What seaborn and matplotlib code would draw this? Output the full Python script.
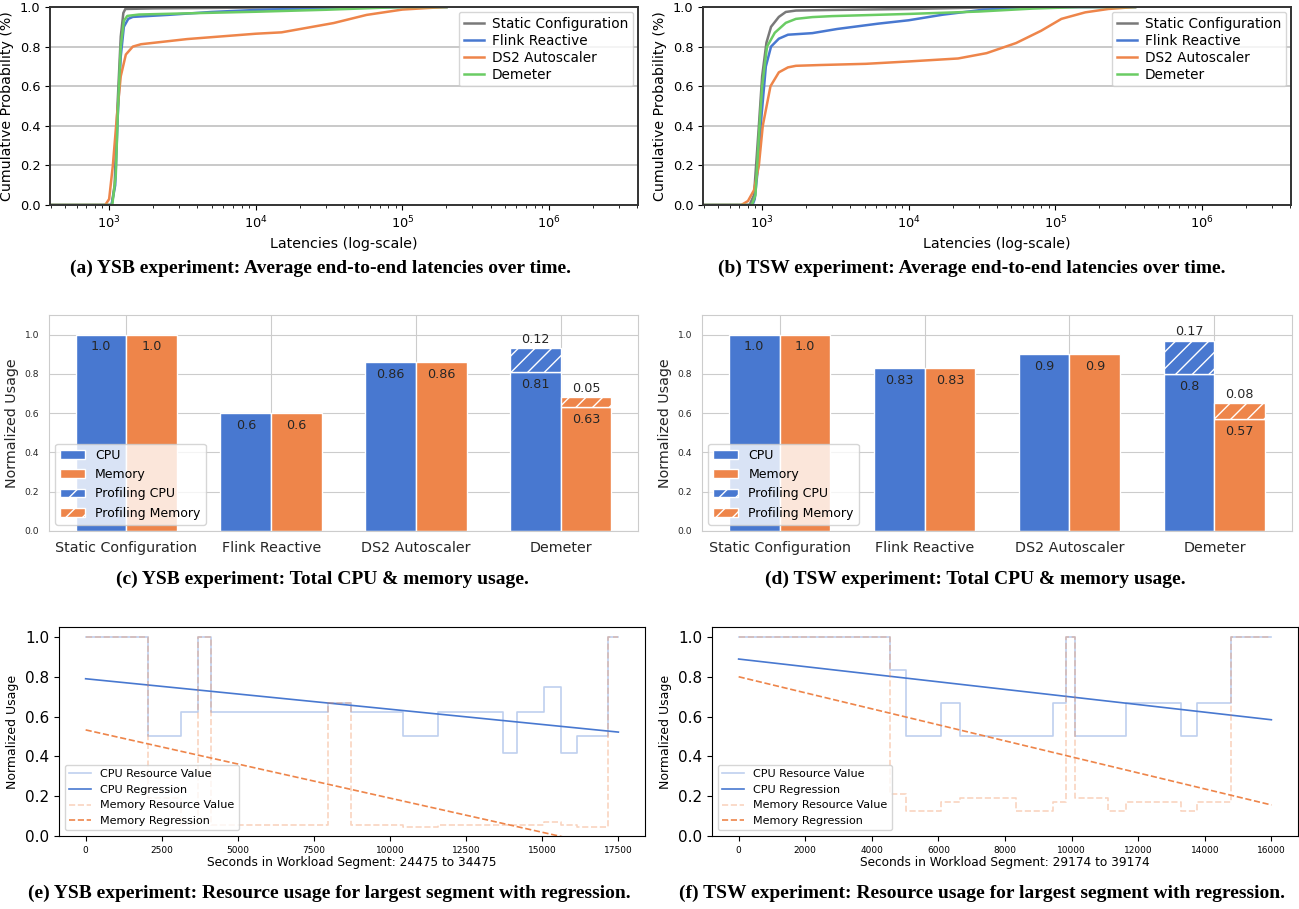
import numpy as np
import matplotlib
matplotlib.use("Agg")
import matplotlib.pyplot as plt
import seaborn as sns

# latency CDFs

ysb_static_lat = [395, 1040, 1090, 1140, 1200, 1250, 1290, 2000, 10000, 50000, 200000]
ysb_static_cdf = [0, 0, 0.1, 0.5, 0.85, 0.97, 0.99, 0.993, 0.997, 1.0, 1.0]
ysb_flink_lat = [395, 1040, 1100, 1145, 1200, 1260, 1350, 1450, 2500, 5000, 10000, 30000, 100000, 200000]
ysb_flink_cdf = [0, 0, 0.1, 0.45, 0.75, 0.9, 0.94, 0.95, 0.96, 0.975, 0.985, 0.995, 1.0, 1.0]
ysb_ds2_lat = [395, 940, 1000, 1060, 1130, 1200, 1300, 1450, 1650, 3400, 10000, 15000, 34000, 57000, 100000, 150000, 200000]
ysb_ds2_cdf = [0, 0, 0.03, 0.2, 0.45, 0.65, 0.76, 0.8, 0.812, 0.838, 0.865, 0.872, 0.919, 0.96, 0.987, 0.995, 1.0]
ysb_dem_lat = [395, 1050, 1110, 1150, 1200, 1260, 1330, 1600, 3000, 10000, 30000, 100000, 200000]
ysb_dem_cdf = [0, 0, 0.15, 0.5, 0.8, 0.93, 0.955, 0.962, 0.967, 0.976, 0.986, 1.0, 1.0]

tsw_static_lat = [395, 820, 880, 950, 1000, 1070, 1150, 1300, 1450, 1700, 3000, 10000, 30000, 100000, 350000]
tsw_static_cdf = [0, 0, 0.05, 0.4, 0.65, 0.82, 0.9, 0.95, 0.975, 0.982, 0.985, 0.99, 0.997, 1.0, 1.0]
tsw_flink_lat = [395, 860, 890, 940, 990, 1060, 1150, 1300, 1500, 2200, 3250, 6200, 10000, 17000, 32000, 60000, 100000, 350000]
tsw_flink_cdf = [0, 0, 0.03, 0.2, 0.45, 0.7, 0.8, 0.84, 0.86, 0.868, 0.889, 0.916, 0.933, 0.961, 0.986, 0.997, 1.0, 1.0]
tsw_ds2_lat = [395, 720, 800, 880, 950, 1010, 1140, 1300, 1500, 1700, 2500, 5100, 10000, 21700, 34000, 54000, 80000, 110000, 160000, 230000, 350000]
tsw_ds2_cdf = [0, 0, 0.02, 0.075, 0.2, 0.4, 0.6, 0.67, 0.695, 0.703, 0.707, 0.713, 0.725, 0.74, 0.767, 0.818, 0.88, 0.94, 0.973, 0.99, 1.0]
tsw_dem_lat = [395, 850, 900, 950, 1000, 1080, 1220, 1450, 1700, 2200, 3000, 10000, 30000, 70000, 150000, 350000]
tsw_dem_cdf = [0, 0, 0.05, 0.35, 0.6, 0.8, 0.87, 0.92, 0.94, 0.949, 0.954, 0.965, 0.977, 0.992, 1.0, 1.0]

# total usage bars

categories = ['Static Configuration', 'Flink Reactive', 'DS2 Autoscaler', 'Demeter']
ysb_cpu = np.array([1.0, 0.6, 0.86, 0.81])
ysb_mem = np.array([1.0, 0.6, 0.86, 0.63])
ysb_prof_cpu = np.array([0, 0, 0, 0.12])
ysb_prof_mem = np.array([0, 0, 0, 0.05])
tsw_cpu = np.array([1.0, 0.83, 0.9, 0.8])
tsw_mem = np.array([1.0, 0.83, 0.9, 0.57])
tsw_prof_cpu = np.array([0, 0, 0, 0.17])
tsw_prof_mem = np.array([0, 0, 0, 0.08])

# resource usage over largest segment (step change times + values)

ysb_t = [0, 2034, 3133, 3704, 4122, 7967, 8711, 10419, 11574, 13725, 14180, 15048, 15610, 16139, 17174, 17500]
ysb_cpu_val = [1.0, 0.5, 0.625, 1.0, 0.625, 0.667, 0.625, 0.5, 0.625, 0.417, 0.625, 0.75, 0.417, 0.5, 1.0, 1.0]
ysb_mem_val = [1.0, 0.19, 0.055, 1.0, 0.055, 0.667, 0.055, 0.045, 0.055, 0.055, 0.055, 0.069, 0.055, 0.045, 1.0, 1.0]
ysb_reg_t = [0, 17500]
ysb_cpu_reg = [0.79, 0.522]
ysb_mem_reg = [0.533, -0.067]

tsw_t = [0, 4550, 5024, 6091, 6634, 8327, 9456, 9837, 10091, 11097, 11631, 13281, 13764, 14773, 16000]
tsw_cpu_val = [1.0, 0.833, 0.5, 0.667, 0.5, 0.5, 0.667, 1.0, 0.5, 0.5, 0.667, 0.5, 0.667, 1.0, 1.0]
tsw_mem_val = [1.0, 0.213, 0.127, 0.17, 0.19, 0.127, 0.17, 1.0, 0.19, 0.127, 0.17, 0.127, 0.17, 1.0, 1.0]
tsw_reg_t = [0, 16000]
tsw_cpu_reg = [0.889, 0.584]
tsw_mem_reg = [0.80, 0.156]

muted = sns.color_palette("muted")
BLUE, ORANGE, GREEN, GRAY = muted[0], muted[1], muted[2], muted[7]

W, H = 1299, 909
fig = plt.figure(figsize=(W / 100, H / 100), dpi=100)


def box(l, t, r, b):
    return [l / W, 1 - b / H, (r - l) / W, (b - t) / H]


def caption(x, y, s):
    fig.text(x / W, 1 - y / H, s, ha='center', va='center', fontsize=14,
             fontweight='bold', family='Liberation Serif')


# CDF panels

def cdf_panel(rect, series):
    ax = fig.add_axes(rect)
    for lat, cdf, name, col in series:
        sns.lineplot(x=lat, y=cdf, ax=ax, color=col, lw=1.8, label=name,
                     estimator=None, sort=False)
    ax.set_xscale('log')
    ax.set_xlim(395, 4.05e6)
    ax.set_ylim(0, 1.0)
    ax.set_yticks(np.arange(0, 1.01, 0.2))
    ax.yaxis.grid(True, color='#bbbbbb', lw=1.1)
    ax.set_axisbelow(True)
    for s in ax.spines.values():
        s.set_color('#333333')
        s.set_linewidth(1.4)
    ax.tick_params(labelsize=9.3)
    ax.set_xlabel('Latencies (log-scale)', fontsize=10.3)
    ax.set_ylabel('Cumulative Probability (%)', fontsize=10.2)
    ax.legend(loc='upper right', fontsize=9.8, labelspacing=0.22, handlelength=1.5,
              borderpad=0.35, handletextpad=0.6, borderaxespad=0.35)
    return ax


cdf_panel(box(50, 7, 638, 205), [
    (ysb_static_lat, ysb_static_cdf, 'Static Configuration', GRAY),
    (ysb_flink_lat, ysb_flink_cdf, 'Flink Reactive', BLUE),
    (ysb_ds2_lat, ysb_ds2_cdf, 'DS2 Autoscaler', ORANGE),
    (ysb_dem_lat, ysb_dem_cdf, 'Demeter', GREEN),
])
cdf_panel(box(703, 7, 1291, 205), [
    (tsw_static_lat, tsw_static_cdf, 'Static Configuration', GRAY),
    (tsw_flink_lat, tsw_flink_cdf, 'Flink Reactive', BLUE),
    (tsw_ds2_lat, tsw_ds2_cdf, 'DS2 Autoscaler', ORANGE),
    (tsw_dem_lat, tsw_dem_cdf, 'Demeter', GREEN),
])

# bar panels


def bar_panel(rect, cpu, mem, prof_cpu, prof_mem):
    with sns.axes_style('whitegrid'):
        ax = fig.add_axes(rect)
    x = np.arange(len(categories))
    w = 0.35
    b1 = ax.bar(x - w / 2, cpu, w, color=BLUE, edgecolor='white', label='CPU')
    b2 = ax.bar(x + w / 2, mem, w, color=ORANGE, edgecolor='white', label='Memory')
    m1 = prof_cpu > 0
    m2 = prof_mem > 0
    p1 = ax.bar((x - w / 2)[m1], prof_cpu[m1], w, bottom=cpu[m1], color=BLUE,
                edgecolor='white', hatch='//', label='Profiling CPU')
    p2 = ax.bar((x + w / 2)[m2], prof_mem[m2], w, bottom=mem[m2], color=ORANGE,
                edgecolor='white', hatch='//', label='Profiling Memory')
    ax.bar_label(b1, labels=[str(v) for v in cpu], padding=-13.5, fontsize=9.2, color='#262626')
    ax.bar_label(b2, labels=[str(v) for v in mem], padding=-13.5, fontsize=9.2, color='#262626')
    ax.bar_label(p1, labels=[str(v) for v in prof_cpu[m1]], padding=1.5, fontsize=9.2, color='#262626')
    ax.bar_label(p2, labels=[str(v) for v in prof_mem[m2]], padding=1.5, fontsize=9.2, color='#262626')
    ax.set_xticks(x, categories)
    ax.set_ylim(0, 1.1)
    ax.set_yticks(np.arange(0, 1.01, 0.2))
    ax.tick_params(axis='x', labelsize=10.3)
    ax.tick_params(axis='y', labelsize=6.6)
    ax.set_ylabel('Normalized Usage', fontsize=10.3)
    ax.legend(loc='lower left', fontsize=9)
    return ax


bar_panel(box(49, 315, 638, 531), ysb_cpu, ysb_mem, ysb_prof_cpu, ysb_prof_mem)
bar_panel(box(702, 315, 1292, 531), tsw_cpu, tsw_mem, tsw_prof_cpu, tsw_prof_mem)

# regression panels


def reg_panel(rect, t, cpu_v, mem_v, reg_t, cpu_reg, mem_reg, xlabel):
    ax = fig.add_axes(rect)
    sns.lineplot(x=t, y=cpu_v, ax=ax, drawstyle='steps-post', color=BLUE, alpha=0.35,
                 lw=1.2, label='CPU Resource Value', estimator=None, sort=False)
    sns.lineplot(x=reg_t, y=cpu_reg, ax=ax, color=BLUE, lw=1.2, label='CPU Regression',
                 estimator=None, sort=False)
    sns.lineplot(x=t, y=mem_v, ax=ax, drawstyle='steps-post', color=ORANGE, alpha=0.35,
                 lw=1.2, linestyle='--', label='Memory Resource Value', estimator=None, sort=False)
    sns.lineplot(x=reg_t, y=mem_reg, ax=ax, color=ORANGE, lw=1.2, linestyle='--',
                 label='Memory Regression', estimator=None, sort=False)
    ax.set_ylim(0, 1.05)
    ax.tick_params(axis='y', labelsize=11)
    ax.tick_params(axis='x', labelsize=6.5)
    ax.set_xlabel(xlabel, fontsize=8.7, labelpad=1)
    ax.set_ylabel('Normalized Usage', fontsize=9)
    ax.legend(loc='lower left', fontsize=8)
    return ax


reg_panel(box(59, 627, 645, 836), ysb_t, ysb_cpu_val, ysb_mem_val, ysb_reg_t,
          ysb_cpu_reg, ysb_mem_reg, 'Seconds in Workload Segment: 24475 to 34475')
reg_panel(box(712, 627, 1298, 836), tsw_t, tsw_cpu_val, tsw_mem_val, tsw_reg_t,
          tsw_cpu_reg, tsw_mem_reg, 'Seconds in Workload Segment: 29174 to 39174')

caption(321, 268, '(a) YSB experiment: Average end-to-end latencies over time.')
caption(972, 268, '(b) TSW experiment: Average end-to-end latencies over time.')
caption(322, 579, '(c) YSB experiment: Total CPU & memory usage.')
caption(975, 579, '(d) TSW experiment: Total CPU & memory usage.')
caption(329, 893, '(e) YSB experiment: Resource usage for largest segment with regression.')
caption(982, 893, '(f) TSW experiment: Resource usage for largest segment with regression.')

fig.savefig('out.png', dpi=100)
